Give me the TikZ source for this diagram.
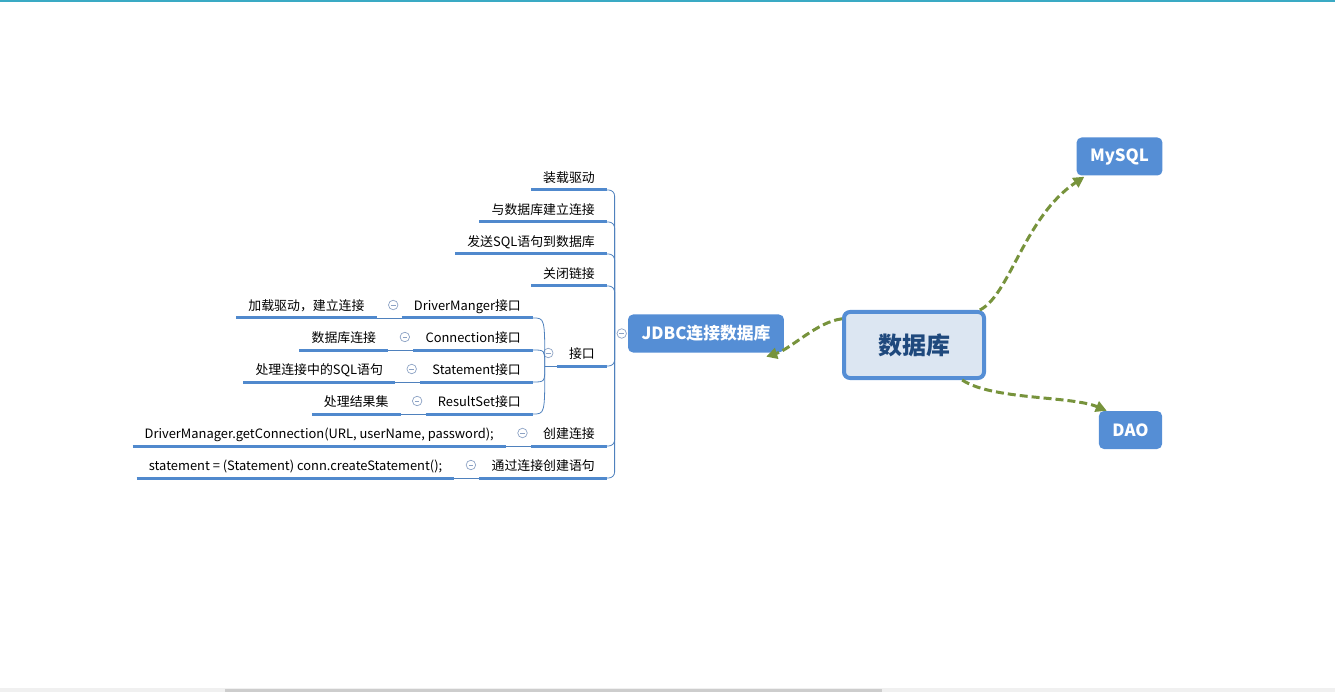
\documentclass[tikz,border=0pt]{standalone}
\usepackage{fontspec}
\setmainfont{Noto Sans CJK SC}
\usepackage{tikz}
\usetikzlibrary{arrows.meta,positioning}
\definecolor{topbar}{RGB}{58,170,196}
\definecolor{barbg}{RGB}{240,240,240}
\definecolor{barthumb}{RGB}{205,205,205}
\definecolor{boxblue}{RGB}{85,142,213}
\definecolor{rootfill}{RGB}{220,230,242}
\definecolor{roottext}{RGB}{31,73,125}
\definecolor{linkgreen}{RGB}{119,147,60}
\definecolor{lineblue}{RGB}{80,137,205}
\definecolor{twigblue}{RGB}{79,129,189}
\definecolor{foldc}{RGB}{140,162,196}

\begin{document}
\begin{tikzpicture}[x=1pt, y=-1pt,
  every node/.style={font=\fontsize{12.9}{15}\selectfont},
  topic/.style={anchor=south east, inner xsep=12pt, inner ysep=4.5pt,
                text height=10pt, text depth=3pt},
  uline/.style={draw=lineblue, line width=3pt},
  twig/.style={draw=twigblue, line width=0.8pt},
  fold/.style={circle, draw=foldc, line width=0.7pt, minimum size=9.5pt, inner sep=0pt,
               path picture={\draw[foldc, line width=0.7pt]
                 ([xshift=-2.3pt]path picture bounding box.center) --
                 ([xshift=2.3pt]path picture bounding box.center);}},
  card/.style={fill=boxblue, text=white, rounded corners=5pt, minimum height=38pt,
               inner xsep=13.5pt, font=\fontsize{16.8}{19}\selectfont\bfseries},
  root/.style={draw=boxblue, line width=4pt, fill=rootfill, rounded corners=6pt,
               minimum width=140pt, minimum height=66pt, text=roottext,
               font=\fontsize{24}{28}\selectfont\bfseries},
  link/.style={draw=linkgreen, line width=3pt, dash pattern=on 8pt off 4pt,
               -{Triangle[length=11pt,width=11pt]}}
]
\useasboundingbox (0,0) rectangle (1335,692);
% window frame
\fill[topbar] (0,0) rectangle (1335,2.5);
\fill[barbg] (0,688) rectangle (1335,692);
\fill[barthumb] (225,688.5) rectangle (882,692);

% main topics
\node[root] (db) at (914,345) {数据库};
\node[card] (jdbc) at (706,333.5) {JDBC连接数据库};
\node[card] (mysql) at (1119.5,156.5) {MySQL};
\node[card] (dao) at (1130.5,430) {DAO};
\node[fold, left=1pt of jdbc] (fj) {};

% JDBC branch
\node[topic] (load) at (607,190) {装载驱动};
\node[topic] (conn) at (607,222) {与数据库建立连接};
\node[topic] (send) at (607,254) {发送SQL语句到数据库};
\node[topic] (close) at (607,286) {关闭链接};
\node[topic] (iface) at (607,366) {接口};
\node[topic] (create) at (607,446) {创建连接};
\node[topic] (stmt) at (607,478) {通过连接创建语句};

% interfaces
\node[topic] (dm) at (533,318) {DriverManger接口};
\node[topic] (cn) at (533,350) {Connection接口};
\node[topic] (st) at (533,382) {Statement接口};
\node[topic] (rs) at (533,414) {ResultSet接口};

% notes
\node[topic] (dmnote) at ([xshift=-25pt]dm.south west) {加载驱动，建立连接};
\node[topic] (cnnote) at ([xshift=-25pt]cn.south west) {数据库连接};
\node[topic] (stnote) at ([xshift=-25pt]st.south west) {处理连接中的SQL语句};
\node[topic] (rsnote) at ([xshift=-25pt]rs.south west) {处理结果集};
\node[topic] (createnote) at ([xshift=-25pt]create.south west) {DriverManager.getConnection(URL, userName, password);};
\node[topic] (stmtnote) at ([xshift=-25pt]stmt.south west) {statement = (Statement) conn.createStatement();};

\foreach \n in {dm,cn,st,rs,iface,create,stmt}
  \node[fold] (f\n) at ([xshift=-8.5pt,yshift=13pt]\n.south west) {};

% thin connectors
\coordinate (jroot) at ([xshift=-2pt]fj.west);
\foreach \n in {load,conn,send,close,iface,create,stmt}
  \draw[twig, rounded corners=6pt] (jroot) |- (\n.south east);
\coordinate (ijoin) at ([xshift=-12pt]iface.south west);
\draw[twig] (ijoin) -- (iface.south west);
\foreach \n in {dm,cn,st,rs}
  \draw[twig] (ijoin) .. controls (ijoin |- \n.south east) .. (\n.south east);
\draw[twig] (dmnote.south east) -- (dm.south west);
\draw[twig] (cnnote.south east) -- (cn.south west);
\draw[twig] (stnote.south east) -- (st.south west);
\draw[twig] (rsnote.south east) -- (rs.south west);
\draw[twig] (createnote.south east) -- (create.south west);
\draw[twig] (stmtnote.south east) -- (stmt.south west);

\foreach \n in {load,conn,send,close,iface,create,stmt,dm,cn,st,rs,dmnote,cnnote,stnote,rsnote,createnote,stmtnote}
  \draw[uline] (\n.south west) -- (\n.south east);

% relations
\draw[link] (db.160) .. controls +(-25,3) and +(25,-8) .. ([xshift=-18pt,yshift=-4pt]jdbc.south east);
\draw[link] (db.28) .. controls +(30,-15) and +(-60,40) .. ([xshift=8pt,yshift=-1pt]mysql.south west);
\draw[link] (db.-36) .. controls +(30,20) and +(-35,-15) .. ([xshift=8pt]dao.north west);
\end{tikzpicture}
\end{document}
